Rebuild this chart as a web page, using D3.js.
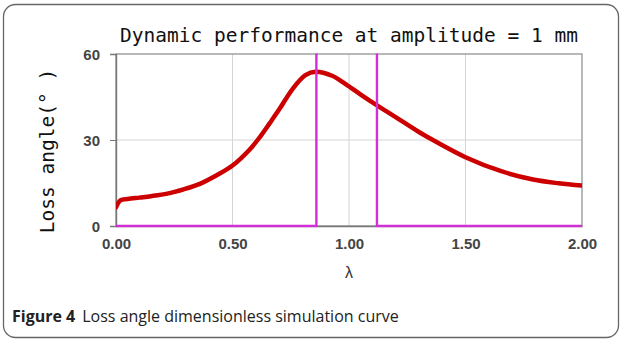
<!DOCTYPE html>
<html>
<head>
<meta charset="utf-8">
<script src="https://cdn.jsdelivr.net/npm/d3@7"></script>
<style>
  html, body { margin: 0; padding: 0; background: #fff; }
  svg { display: block; }
</style>
</head>
<body>
<svg id="chart" width="622" height="341"></svg>
<script>
// Loss angle versus dimensionless frequency ratio λ
const lambda = [0, 0.02, 0.05, 0.1, 0.15, 0.22, 0.29, 0.36, 0.43, 0.5, 0.575, 0.62, 0.66, 0.7,
                0.756, 0.813, 0.857, 0.927, 0.984, 1.055, 1.122, 1.2, 1.3, 1.36, 1.5, 1.65, 1.79, 1.9, 2.0];
const lossAngle = [6.5, 9.0, 9.4, 9.9, 10.4, 11.3, 12.8, 14.7, 17.6, 21.1, 26.8, 31.3, 35.9, 40.6,
                   47.6, 52.6, 53.8, 52.4, 49.6, 45.6, 42.0, 38.0, 32.8, 30.0, 24.0, 19.2, 16.2, 14.9, 14.1];

// Band indicator (magenta step); the raised part runs past the top of the plot
const bandLambda = [0, 0.86, 0.86, 1.12, 1.12, 2.0];
const bandValue = [0, 0, 100, 100, 0, 0];

const xTicks = [0, 0.5, 1.0, 1.5, 2.0];
const yTicks = [0, 30, 60];

const titleText = "Dynamic performance at amplitude = 1 mm";
const yLabel = "Loss angle(° )";
const xLabel = "λ";
const captionBold = "Figure 4";
const captionText = "Loss angle dimensionless simulation curve";

const svg = d3.select("#chart");
const plot = { left: 116, right: 582, top: 54, bottom: 226 };

const x = d3.scaleLinear().domain([0, 2]).range([plot.left, plot.right]);
const y = d3.scaleLinear().domain([0, 60]).range([plot.bottom, plot.top]);

// Outer rounded frame
svg.append("rect")
  .attr("x", 3.5).attr("y", 4.5).attr("width", 615).attr("height", 333)
  .attr("rx", 12).attr("ry", 12)
  .attr("fill", "#fff").attr("stroke", "#666").attr("stroke-width", 1.3);

// Gridlines
svg.append("g").selectAll("line").data(xTicks.slice(1, -1)).join("line")
  .attr("x1", d => x(d)).attr("x2", d => x(d))
  .attr("y1", plot.top).attr("y2", plot.bottom)
  .attr("stroke", "#d4d4d4").attr("stroke-width", 1);
svg.append("g").selectAll("line").data(yTicks.slice(1, -1)).join("line")
  .attr("x1", plot.left).attr("x2", plot.right)
  .attr("y1", d => y(d)).attr("y2", d => y(d))
  .attr("stroke", "#d4d4d4").attr("stroke-width", 1);

// Plot box
svg.append("rect")
  .attr("x", plot.left).attr("y", plot.top)
  .attr("width", plot.right - plot.left).attr("height", plot.bottom - plot.top)
  .attr("fill", "none").attr("stroke", "#8a8a8a").attr("stroke-width", 1.2);

// Axes
const xAxis = d3.axisBottom(x).tickValues(xTicks).tickFormat(d3.format(".2f")).tickSize(0).tickPadding(12);
const yAxis = d3.axisLeft(y).tickValues(yTicks).tickFormat(d3.format("d")).tickSize(6).tickPadding(10);

const gx = svg.append("g").attr("transform", `translate(0,${plot.bottom})`).call(xAxis);
const gy = svg.append("g").attr("transform", `translate(${plot.left},0)`).call(yAxis);
[gx, gy].forEach(g => {
  g.select(".domain").attr("stroke", "#777").attr("stroke-width", 1.4);
  g.selectAll(".tick line").attr("stroke", "#777");
  g.selectAll(".tick text")
    .attr("font-family", "Liberation Sans, Arial, sans-serif")
    .attr("font-size", 15).attr("font-weight", "bold").attr("fill", "#444");
});
gy.selectAll(".tick text").attr("dy", "0.36em");

// Clip for data marks
svg.append("clipPath").attr("id", "plotClip")
  .append("rect").attr("x", plot.left).attr("y", plot.top - 0.5)
  .attr("width", plot.right - plot.left).attr("height", plot.bottom - plot.top + 2);

const curve = d3.line()
  .x((d, i) => x(lambda[i])).y(d => y(d))
  .curve(d3.curveCatmullRom.alpha(0.5));

svg.append("path")
  .datum(lossAngle)
  .attr("clip-path", "url(#plotClip)")
  .attr("d", curve)
  .attr("fill", "none").attr("stroke", "#cc0000")
  .attr("stroke-width", 4.5).attr("stroke-linejoin", "round").attr("stroke-linecap", "round");

const band = d3.line()
  .x((d, i) => x(bandLambda[i])).y(d => y(d));

svg.append("path")
  .datum(bandValue)
  .attr("clip-path", "url(#plotClip)")
  .attr("d", band)
  .attr("fill", "none").attr("stroke", "#d22fd8").attr("stroke-width", 2.4);

// Title
svg.append("text")
  .attr("x", (plot.left + plot.right) / 2).attr("y", 42)
  .attr("text-anchor", "middle")
  .attr("font-family", "DejaVu Sans Mono, monospace").attr("font-size", 19.5)
  .attr("fill", "#111")
  .text(titleText);

// Y label
svg.append("text")
  .attr("transform", `translate(54,${(plot.top + plot.bottom) / 2 + 11}) rotate(-90)`)
  .attr("text-anchor", "middle")
  .attr("font-family", "DejaVu Sans Mono, monospace").attr("font-size", 19.5)
  .attr("fill", "#111")
  .text(yLabel);

// X label
svg.append("text")
  .attr("x", (plot.left + plot.right) / 2).attr("y", 278)
  .attr("text-anchor", "middle")
  .attr("font-family", "Liberation Sans, Arial, sans-serif").attr("font-size", 16)
  .attr("fill", "#333")
  .text(xLabel);

// Caption
const cap = svg.append("text")
  .attr("x", 12).attr("y", 322)
  .attr("font-family", "Open Sans, Noto Sans, sans-serif").attr("font-size", 16)
  .attr("fill", "#222");
cap.append("tspan").attr("font-weight", "bold").text(captionBold);
cap.append("tspan").attr("dx", 7).text(captionText);
</script>
</body>
</html>
